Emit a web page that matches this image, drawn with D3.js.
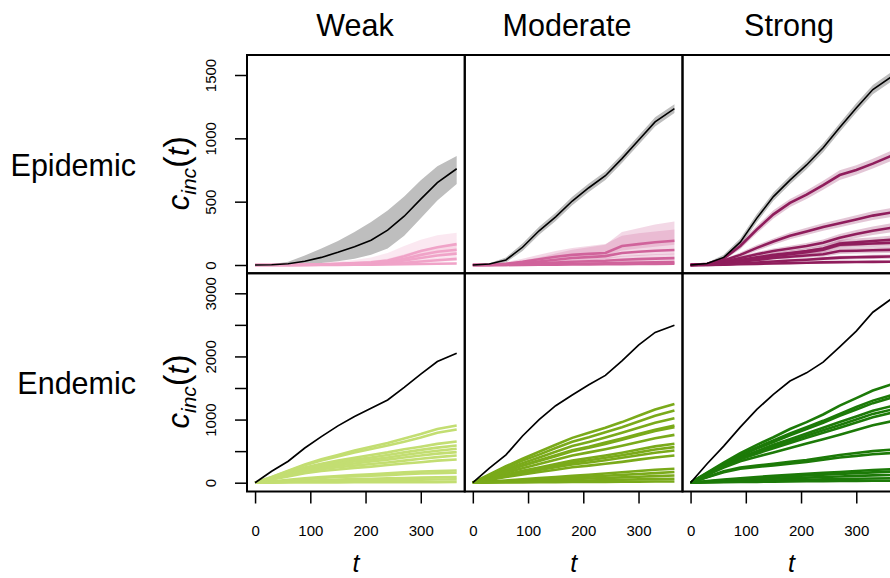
<!DOCTYPE html>
<html>
<head>
<meta charset="utf-8">
<script src="https://cdn.jsdelivr.net/npm/d3@7"></script>
<style>
  body { margin: 0; background: #fff; }
  svg { display: block; font-family: "Liberation Sans", Arial, sans-serif; }
</style>
</head>
<body>
<svg id="chart" width="890" height="578"></svg>
<script>
// time grid (days) shared by every series
const days = [0, 30, 60, 90, 120, 150, 180, 210, 240, 270, 300, 330, 365]

const strengths = ['Weak', 'Moderate', 'Strong']
const regimes = ['Epidemic', 'Endemic']
const xTicks = [0, 100, 200, 300]
const yTicksTop = [0, 500, 1000, 1500]
const yTicksBottom = [0, 500, 1000, 1500, 2000, 2500, 3000]
const yLabelsBottom = [0, 1000, 2000, 3000]

const epiColors = ['#f0a3c8', '#d0639b', '#8f1d5c']
const endColors = ['#c3de72', '#7aaa1a', '#1c7a08']

// ---- Epidemic: totals with grey band ----
const weakEpiTotal = [0, 2, 10, 30, 60, 100, 145, 195, 275, 385, 520, 650, 760]
const weakEpiTotalLo = [0, 0, 2, 5, 15, 30, 50, 80, 130, 230, 370, 510, 640]
const weakEpiTotalHi = [0, 6, 25, 75, 130, 190, 260, 340, 430, 540, 670, 780, 860]

const modEpiTotal = [0, 8, 40, 140, 270, 380, 505, 610, 705, 840, 985, 1130, 1235]
const modEpiTotalLo = [0, 3, 20, 110, 238, 348, 472, 576, 672, 806, 950, 1094, 1200]
const modEpiTotalHi = [0, 14, 60, 170, 302, 412, 538, 644, 738, 874, 1020, 1166, 1270]

const strEpiTotal = [0, 12, 60, 180, 370, 540, 670, 790, 925, 1085, 1240, 1385, 1490]
const strEpiTotalLo = [0, 6, 40, 150, 338, 508, 638, 756, 890, 1050, 1204, 1348, 1452]
const strEpiTotalHi = [0, 18, 80, 210, 402, 572, 702, 824, 960, 1120, 1276, 1422, 1528]

// ---- Epidemic: group trajectories (mid, low, high) ----
const weakEpiMid = [
  [0, 0, 1, 3, 6, 10, 15, 22, 35, 70, 110, 140, 165],
  [0, 0, 1, 2, 4, 7, 11, 16, 25, 50, 80, 105, 120],
  [0, 0, 0, 1, 3, 5, 8, 12, 18, 35, 55, 75, 90],
  [0, 0, 0, 1, 2, 3, 5, 7, 10, 18, 28, 38, 48],
  [0, 0, 0, 0, 1, 1, 2, 3, 4, 6, 8, 10, 12]
]
const weakEpiLo = [
  [0, 0, 0, 1, 3, 5, 8, 12, 20, 40, 70, 100, 125],
  [0, 0, 0, 1, 2, 4, 6, 9, 14, 30, 55, 80, 95],
  [0, 0, 0, 0, 1, 2, 4, 6, 10, 20, 35, 50, 65],
  [0, 0, 0, 0, 1, 1, 2, 3, 5, 10, 16, 24, 32],
  [0, 0, 0, 0, 0, 0, 1, 1, 2, 3, 4, 5, 6]
]
const weakEpiHi = [
  [0, 1, 4, 10, 18, 28, 40, 60, 95, 150, 200, 235, 255],
  [0, 1, 3, 6, 10, 16, 24, 34, 50, 85, 120, 145, 160],
  [0, 0, 2, 4, 7, 11, 16, 22, 32, 55, 80, 100, 115],
  [0, 0, 1, 2, 4, 6, 9, 13, 17, 28, 42, 54, 65],
  [0, 0, 0, 1, 2, 3, 4, 6, 8, 11, 14, 17, 20]
]

const modEpiMid = [
  [0, 2, 10, 25, 45, 65, 80, 88, 95, 150, 165, 180, 192],
  [0, 1, 6, 15, 28, 42, 55, 62, 70, 95, 105, 112, 118],
  [0, 1, 3, 8, 14, 20, 26, 30, 34, 42, 46, 50, 54],
  [0, 0, 1, 3, 5, 8, 10, 12, 14, 17, 19, 21, 23],
  [0, 0, 0, 1, 2, 3, 4, 5, 6, 7, 8, 9, 10]
]
const modEpiLo = [
  [0, 1, 5, 15, 30, 45, 55, 62, 70, 115, 130, 145, 160],
  [0, 0, 3, 8, 16, 25, 33, 38, 44, 65, 72, 78, 82],
  [0, 0, 1, 4, 8, 12, 16, 19, 22, 28, 31, 34, 37],
  [0, 0, 0, 1, 2, 4, 5, 6, 7, 9, 10, 11, 12],
  [0, 0, 0, 0, 1, 1, 2, 2, 3, 3, 4, 4, 5]
]
const modEpiHi = [
  [0, 5, 22, 50, 80, 110, 135, 150, 165, 230, 250, 265, 280],
  [0, 3, 15, 35, 60, 90, 120, 140, 160, 260, 290, 320, 343],
  [0, 2, 7, 15, 25, 35, 45, 52, 60, 72, 78, 84, 90],
  [0, 1, 3, 7, 11, 15, 19, 22, 25, 30, 33, 36, 40],
  [0, 0, 1, 2, 4, 6, 8, 9, 10, 12, 13, 15, 16]
]

const strEpiMid = [
  [0, 10, 50, 150, 280, 400, 490, 555, 630, 710, 750, 800, 865],
  [0, 8, 35, 80, 135, 185, 230, 265, 300, 330, 360, 390, 415],
  [0, 5, 25, 55, 85, 110, 130, 150, 175, 215, 245, 270, 295],
  [0, 4, 18, 40, 60, 80, 95, 110, 130, 170, 180, 190, 200],
  [0, 3, 15, 35, 55, 70, 85, 100, 120, 160, 165, 170, 175],
  [0, 2, 10, 25, 40, 55, 65, 75, 85, 110, 113, 116, 120],
  [0, 1, 5, 12, 20, 28, 35, 42, 50, 58, 61, 64, 67],
  [0, 1, 3, 6, 9, 12, 15, 18, 21, 23, 24, 25, 26]
]
const strEpiLo = [
  [0, 6, 38, 125, 250, 368, 458, 522, 595, 672, 712, 762, 825],
  [0, 5, 25, 62, 112, 160, 203, 236, 270, 298, 327, 356, 380],
  [0, 3, 17, 42, 68, 90, 108, 126, 148, 185, 213, 237, 260],
  [0, 2, 12, 30, 46, 63, 76, 89, 107, 142, 151, 160, 168],
  [0, 2, 10, 26, 42, 55, 68, 80, 98, 133, 138, 142, 147],
  [0, 1, 6, 17, 29, 41, 49, 57, 65, 87, 90, 92, 95],
  [0, 0, 3, 7, 13, 19, 24, 30, 36, 42, 45, 47, 50],
  [0, 0, 1, 3, 5, 7, 9, 11, 13, 14, 15, 16, 16]
]
const strEpiHi = [
  [0, 14, 62, 175, 310, 432, 522, 588, 665, 748, 788, 838, 905],
  [0, 11, 45, 98, 158, 210, 257, 294, 330, 362, 393, 424, 450],
  [0, 8, 33, 68, 102, 130, 152, 174, 202, 245, 277, 303, 330],
  [0, 6, 24, 50, 74, 97, 114, 131, 153, 198, 209, 220, 232],
  [0, 4, 20, 44, 68, 85, 102, 120, 142, 187, 192, 198, 203],
  [0, 3, 14, 33, 51, 69, 81, 93, 105, 133, 136, 140, 145],
  [0, 2, 7, 17, 27, 37, 46, 54, 64, 74, 77, 81, 84],
  [0, 2, 5, 9, 13, 17, 21, 25, 29, 32, 33, 34, 36]
]

// ---- Endemic: totals ----
const weakEndTotal = [0, 180, 340, 550, 730, 900, 1050, 1180, 1310, 1510, 1720, 1920, 2050]
const modEndTotal = [0, 230, 440, 740, 1000, 1220, 1390, 1550, 1700, 1930, 2180, 2380, 2495]
const strEndTotal = [0, 300, 580, 880, 1160, 1400, 1610, 1740, 1910, 2150, 2400, 2700, 2920]

// ---- Endemic: group trajectories ----
const weakEndLines = [
  [0, 90, 190, 290, 370, 440, 510, 570, 630, 700, 770, 850, 905],
  [0, 85, 180, 275, 350, 415, 480, 535, 590, 650, 715, 790, 842],
  [0, 75, 160, 240, 300, 350, 395, 440, 480, 530, 570, 615, 652],
  [0, 70, 150, 225, 280, 325, 365, 400, 440, 480, 520, 555, 589],
  [0, 65, 140, 210, 260, 300, 335, 365, 400, 440, 475, 505, 537],
  [0, 60, 130, 195, 240, 275, 305, 335, 365, 400, 430, 460, 485],
  [0, 55, 115, 175, 215, 245, 270, 295, 320, 350, 380, 405, 431],
  [0, 50, 100, 150, 185, 210, 235, 255, 280, 305, 325, 350, 368],
  [0, 20, 45, 70, 90, 105, 120, 135, 150, 165, 175, 185, 194],
  [0, 15, 35, 55, 75, 90, 100, 110, 120, 135, 145, 150, 158],
  [0, 10, 20, 30, 40, 50, 57, 63, 70, 75, 80, 85, 90],
  [0, 5, 12, 18, 24, 30, 34, 38, 42, 45, 48, 50, 52],
  [0, 1, 2, 3, 4, 5, 6, 7, 8, 8, 9, 9, 10]
]
const modEndLines = [
  [0, 130, 260, 380, 490, 600, 710, 790, 870, 960, 1060, 1160, 1248],
  [0, 120, 240, 350, 445, 550, 650, 720, 800, 880, 970, 1060, 1142],
  [0, 105, 215, 310, 400, 490, 580, 645, 715, 790, 870, 950, 1022],
  [0, 95, 190, 275, 355, 435, 515, 570, 635, 700, 770, 840, 905],
  [0, 90, 185, 270, 345, 420, 500, 555, 615, 680, 750, 820, 880],
  [0, 80, 160, 230, 295, 365, 430, 480, 530, 585, 645, 705, 758],
  [0, 65, 130, 190, 240, 295, 350, 390, 430, 475, 525, 575, 616],
  [0, 60, 120, 175, 220, 270, 320, 355, 395, 435, 480, 525, 564],
  [0, 55, 110, 155, 200, 245, 290, 320, 355, 395, 435, 475, 510],
  [0, 45, 90, 130, 170, 205, 245, 270, 300, 330, 365, 400, 431],
  [0, 18, 36, 54, 72, 90, 108, 125, 145, 165, 185, 205, 221],
  [0, 14, 28, 41, 55, 69, 83, 96, 110, 124, 138, 152, 169],
  [0, 9, 19, 28, 38, 47, 57, 66, 75, 85, 94, 104, 115],
  [0, 5, 10, 15, 21, 26, 31, 36, 41, 47, 52, 57, 63],
  [0, 2, 3, 5, 7, 8, 10, 12, 13, 15, 16, 18, 20]
]
const strEndLines = [
  [0, 160, 320, 470, 600, 720, 850, 960, 1080, 1220, 1340, 1460, 1560],
  [0, 150, 300, 440, 560, 670, 780, 880, 980, 1090, 1200, 1300, 1390],
  [0, 145, 290, 425, 540, 645, 750, 850, 950, 1060, 1160, 1260, 1350],
  [0, 140, 280, 400, 500, 600, 690, 780, 870, 960, 1050, 1140, 1215],
  [0, 135, 270, 385, 480, 570, 660, 745, 830, 915, 1000, 1090, 1160],
  [0, 130, 260, 370, 460, 545, 630, 710, 790, 870, 955, 1035, 1110],
  [0, 120, 240, 340, 410, 480, 550, 620, 690, 760, 835, 910, 975],
  [0, 90, 180, 240, 270, 300, 330, 360, 400, 440, 470, 500, 525],
  [0, 85, 165, 220, 250, 275, 300, 330, 365, 400, 425, 450, 470],
  [0, 25, 50, 70, 90, 110, 125, 140, 155, 170, 185, 200, 214],
  [0, 20, 40, 58, 75, 90, 103, 115, 127, 140, 152, 164, 176],
  [0, 14, 28, 40, 52, 62, 72, 81, 90, 99, 108, 116, 124],
  [0, 8, 16, 23, 30, 36, 42, 47, 52, 57, 62, 67, 71],
  [0, 4, 7, 10, 13, 16, 19, 22, 24, 26, 28, 30, 32]
]

// ---------------- layout ----------------
const svg = d3.select('#chart')
svg.append('rect').attr('width', 890).attr('height', 578).attr('fill', '#fff')

const panelLeft = 247
const panelW = 217.75
const rowTop = [55, 273.25]
const rowH = 218.25
const titleX = [355, 567, 789]

// x: R style 4% padding around [0, 365]
const xScales = strengths.map((s, c) =>
  d3.scaleLinear()
    .domain([-14.6, 379.6])
    .range([panelLeft + c * panelW, panelLeft + (c + 1) * panelW]))

const yTop = d3.scaleLinear().domain([0, 1500]).range([265, 75])
const yBot = d3.scaleLinear().domain([0, 3000]).range([482.7, 293.3])

const epiPanels = [
  { total: weakEpiTotal, lo: weakEpiTotalLo, hi: weakEpiTotalHi, mid: weakEpiMid, bandLo: weakEpiLo, bandHi: weakEpiHi },
  { total: modEpiTotal, lo: modEpiTotalLo, hi: modEpiTotalHi, mid: modEpiMid, bandLo: modEpiLo, bandHi: modEpiHi },
  { total: strEpiTotal, lo: strEpiTotalLo, hi: strEpiTotalHi, mid: strEpiMid, bandLo: strEpiLo, bandHi: strEpiHi }
]
const endPanels = [
  { total: weakEndTotal, lines: weakEndLines },
  { total: modEndTotal, lines: modEndLines },
  { total: strEndTotal, lines: strEndLines }
]

const defs = svg.append('defs')

function panelGroup(c, r) {
  const id = `clip-${r}-${c}`
  defs.append('clipPath').attr('id', id)
    .append('rect')
    .attr('x', panelLeft + c * panelW)
    .attr('y', rowTop[r])
    .attr('width', panelW)
    .attr('height', rowH)
  return svg.append('g').attr('clip-path', `url(#${id})`)
}

// epidemic row
epiPanels.forEach((p, c) => {
  const xs = xScales[c]
  const g = panelGroup(c, 0)
  const line = d3.line().x((d, i) => xs(days[i])).y(d => yTop(d))
  const band = (lo, hi) => d3.area()
    .x((d, i) => xs(days[i]))
    .y0((d, i) => yTop(lo[i]))
    .y1((d, i) => yTop(hi[i]))(days)

  g.append('path').attr('d', band(p.lo, p.hi)).attr('fill', '#bebebe')

  p.mid.forEach((m, k) => {
    g.append('path').attr('d', band(p.bandLo[k], p.bandHi[k]))
      .attr('fill', epiColors[c]).attr('fill-opacity', 0.25)
  })
  p.mid.forEach(m => {
    g.append('path').datum(m).attr('d', line)
      .attr('fill', 'none').attr('stroke', epiColors[c]).attr('stroke-width', 2.6)
  })
  g.append('path').datum(p.total).attr('d', line)
    .attr('fill', 'none').attr('stroke', '#000').attr('stroke-width', 1.6)
})

// endemic row
endPanels.forEach((p, c) => {
  const xs = xScales[c]
  const g = panelGroup(c, 1)
  const line = d3.line().x((d, i) => xs(days[i])).y(d => yBot(d))
  p.lines.forEach(l => {
    g.append('path').datum(l).attr('d', line)
      .attr('fill', 'none').attr('stroke', endColors[c]).attr('stroke-width', 2.6)
  })
  g.append('path').datum(p.total).attr('d', line)
    .attr('fill', 'none').attr('stroke', '#000').attr('stroke-width', 1.7)
})

// panel boxes
regimes.forEach((r, ri) => {
  strengths.forEach((s, c) => {
    svg.append('rect')
      .attr('x', panelLeft + c * panelW)
      .attr('y', rowTop[ri])
      .attr('width', panelW)
      .attr('height', rowH)
      .attr('fill', 'none')
      .attr('stroke', '#000')
      .attr('stroke-width', 2)
  })
})

// y axes (left column only)
function yAxis(scale, ticks, labels) {
  const ax = svg.append('g')
    .attr('transform', `translate(${panelLeft},0)`)
    .call(d3.axisLeft(scale).tickValues(ticks).tickSize(12)
      .tickFormat(d => labels.includes(d) ? d : ''))
  ax.select('.domain').remove()
  ax.selectAll('.tick line').attr('stroke', '#000').attr('stroke-width', 1.5)
  ax.selectAll('.tick text')
    .attr('x', 0).attr('dy', null)
    .attr('transform', 'translate(-31,0) rotate(-90)')
    .attr('text-anchor', 'middle')
    .attr('font-size', 15)
    .attr('font-family', '"Liberation Sans", Arial, sans-serif')
    .attr('fill', '#000')
}
yAxis(yTop, yTicksTop, yTicksTop)
yAxis(yBot, yTicksBottom, yLabelsBottom)

// x axes (below bottom row)
xScales.forEach((xs, c) => {
  const ax = svg.append('g')
    .attr('transform', `translate(0,${rowTop[1] + rowH})`)
    .call(d3.axisBottom(xs).tickValues(xTicks).tickSize(12).tickPadding(22))
  ax.select('.domain').remove()
  ax.selectAll('.tick line').attr('stroke', '#000').attr('stroke-width', 1.5)
  ax.selectAll('.tick text')
    .attr('font-size', 15)
    .attr('font-family', '"Liberation Sans", Arial, sans-serif')
    .attr('fill', '#000')

  svg.append('text')
    .attr('x', panelLeft + (c + 0.5) * panelW)
    .attr('y', 572)
    .attr('text-anchor', 'middle')
    .attr('font-size', 25)
    .attr('font-style', 'italic')
    .text('t')
})

// column titles
strengths.forEach((s, c) => {
  svg.append('text')
    .attr('x', titleX[c])
    .attr('y', 36)
    .attr('text-anchor', 'middle')
    .attr('font-size', 30.5)
    .text(s)
})

// row labels + y titles
regimes.forEach((r, ri) => {
  const cy = rowTop[ri] + rowH / 2
  svg.append('text')
    .attr('x', 136)
    .attr('y', cy + 12)
    .attr('text-anchor', 'end')
    .attr('font-size', 30.5)
    .text(r)

  const t = svg.append('text')
    .attr('transform', `translate(189,${cy + 9}) rotate(-90)`)
    .attr('text-anchor', 'middle')
  t.append('tspan').attr('font-style', 'italic').attr('font-size', 31).text('c')
  t.append('tspan').attr('font-style', 'italic').attr('font-size', 21).attr('dy', 7).text('inc')
  t.append('tspan').attr('font-size', 35).attr('dy', -7).text('(')
  t.append('tspan').attr('font-style', 'italic').attr('font-size', 31).text('t')
  t.append('tspan').attr('font-size', 35).text(')')
})
</script>
</body>
</html>
